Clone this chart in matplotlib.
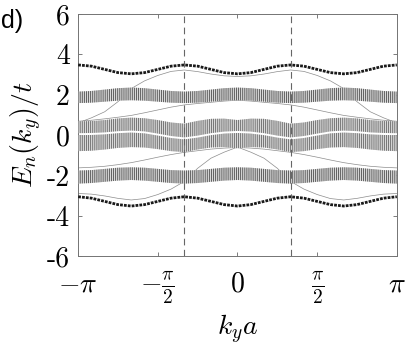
import numpy as np
import matplotlib
matplotlib.use("Agg")
import matplotlib.pyplot as plt

plt.rcParams["mathtext.fontset"] = "cm"
plt.rcParams["hatch.linewidth"] = 0.6
plt.rcParams["axes.unicode_minus"] = False

# 1. Data, k in steps of pi/12 from -pi to pi
k_steps = np.arange(-12, 13)
k = k_steps * np.pi / 12

# thin outer bands (centre line)
band1 = [3.47, 3.41, 3.25, 3.09, 3.03, 3.09, 3.25, 3.41, 3.47, 3.41, 3.25, 3.09, 3.03,
         3.09, 3.25, 3.41, 3.47, 3.41, 3.25, 3.09, 3.03, 3.09, 3.25, 3.41, 3.47]
band6 = [-3.06, -3.13, -3.29, -3.45, -3.52, -3.45, -3.29, -3.13, -3.06, -3.13, -3.29, -3.45, -3.52,
         -3.45, -3.29, -3.13, -3.06, -3.13, -3.29, -3.45, -3.52, -3.45, -3.29, -3.13, -3.06]

# bulk bands: upper / lower edges
band2_top = [2.15, 2.18, 2.25, 2.32, 2.35, 2.32, 2.25, 2.18, 2.15, 2.18, 2.25, 2.32, 2.35,
             2.32, 2.25, 2.18, 2.15, 2.18, 2.25, 2.32, 2.35, 2.32, 2.25, 2.18, 2.15]
band2_bot = [1.58, 1.60, 1.65, 1.70, 1.72, 1.70, 1.65, 1.60, 1.58, 1.60, 1.65, 1.70, 1.72,
             1.70, 1.65, 1.60, 1.58, 1.60, 1.65, 1.70, 1.72, 1.70, 1.65, 1.60, 1.58]
band3_top = [0.68, 0.69, 0.74, 0.82, 0.86, 0.83, 0.74, 0.62, 0.56, 0.70, 0.80, 0.81, 0.74,
             0.81, 0.80, 0.70, 0.56, 0.62, 0.74, 0.83, 0.86, 0.82, 0.74, 0.69, 0.68]
band3_bot = [0.09, 0.10, 0.13, 0.19, 0.22, 0.18, 0.07, -0.05, -0.12, -0.03, 0.09, 0.17, 0.20,
             0.17, 0.09, -0.03, -0.12, -0.05, 0.07, 0.18, 0.22, 0.19, 0.13, 0.10, 0.09]
band4_top = [-0.01, 0.00, 0.03, 0.09, 0.12, 0.08, -0.03, -0.15, -0.22, -0.13, -0.01, 0.07, 0.10,
             0.07, -0.01, -0.13, -0.22, -0.15, -0.03, 0.08, 0.12, 0.09, 0.03, 0.00, -0.01]
band4_bot = [-0.80, -0.78, -0.72, -0.64, -0.60, -0.62, -0.70, -0.80, -0.85, -0.72, -0.62, -0.60, -0.66,
             -0.60, -0.62, -0.72, -0.85, -0.80, -0.70, -0.62, -0.60, -0.64, -0.72, -0.78, -0.80]
band5_top = [-1.76, -1.74, -1.68, -1.62, -1.60, -1.62, -1.68, -1.74, -1.76, -1.74, -1.68, -1.62, -1.60,
             -1.62, -1.68, -1.74, -1.76, -1.74, -1.68, -1.62, -1.60, -1.62, -1.68, -1.74, -1.76]
band5_bot = [-2.41, -2.38, -2.32, -2.26, -2.23, -2.26, -2.32, -2.38, -2.41, -2.38, -2.32, -2.26, -2.23,
             -2.26, -2.32, -2.38, -2.41, -2.38, -2.32, -2.26, -2.23, -2.26, -2.32, -2.38, -2.41]

# edge states (thin lines)
edge_a = [0.60, 0.85, 1.15, 1.65, 2.30, 2.68, 2.95, 3.15, 3.22, 3.14, 3.02, 2.93, 2.90,
          2.93, 3.02, 3.14, 3.22, 3.15, 2.95, 2.68, 2.30, 1.65, 1.15, 0.85, 0.60]
edge_b = [0.68, 0.73, 0.80, 0.88, 0.97, 1.10, 1.24, 1.38, 1.49, 1.56, 1.62, 1.68, 1.72,
          1.68, 1.62, 1.56, 1.49, 1.38, 1.24, 1.10, 0.97, 0.88, 0.80, 0.73, 0.68]
edge_c = [-2.90, -2.93, -3.02, -3.14, -3.22, -3.15, -2.95, -2.68, -2.30, -1.65, -1.15, -0.85, -0.60,
          -0.85, -1.15, -1.65, -2.30, -2.68, -2.95, -3.15, -3.22, -3.14, -3.02, -2.93, -2.90]
edge_d = [-1.63, -1.60, -1.55, -1.47, -1.37, -1.24, -1.10, -0.97, -0.86, -0.78, -0.70, -0.65, -0.62,
          -0.65, -0.70, -0.78, -0.86, -0.97, -1.10, -1.24, -1.37, -1.47, -1.55, -1.60, -1.63]

dash_k = [-np.pi / 3, np.pi / 3]
xticks = [-np.pi, -np.pi / 2, 0, np.pi / 2, np.pi]
xticklabels = [r"$-\pi$", r"$-\frac{\pi}{2}$", r"$0$", r"$\frac{\pi}{2}$", r"$\pi$"]
yticks = [-6, -4, -2, 0, 2, 4, 6]
yticklabels = ["-6", "-4", "-2", "0", "2", "4", "6"]

# 2. Plot
fig = plt.figure(figsize=(4.07, 3.47), dpi=100)
ax = fig.add_axes([0.192, 0.262, 0.783, 0.698])

for e in [edge_a, edge_b, edge_c, edge_d]:
    ax.plot(k, e, color="0.55", lw=0.5, zorder=2)

bulk = [(band2_bot, band2_top, "0.3"), (band3_bot, band3_top, "0.4"),
        (band4_bot, band4_top, "0.4"), (band5_bot, band5_top, "0.3")]
for lo, hi, col in bulk:
    ax.fill_between(k, lo, hi, facecolor="0.85", edgecolor=col, hatch="|" * 8,
                    linewidth=0, zorder=3)

for b in [band1, band6]:
    ax.plot(k, b, color="0.1", lw=2.0, linestyle=(0, (1.0, 0.4)), zorder=4)

for d in dash_k:
    ax.axvline(d, color="0.4", lw=0.8, linestyle=(0, (6, 4)), zorder=5)

ax.set_xlim(-np.pi, np.pi)
ax.set_ylim(-6, 6)
ax.set_xticks(xticks)
ax.set_xticklabels(xticklabels, fontsize=20)
ax.set_yticks(yticks)
ax.set_yticklabels(yticklabels, fontsize=20, fontfamily="cmr10")
ax.tick_params(axis="both", direction="in", top=True, right=True, length=3, width=0.6,
               color="0.4")
ax.tick_params(axis="x", pad=10)
ax.tick_params(axis="y", pad=6)
for spine in ax.spines.values():
    spine.set_color("0.45")
    spine.set_linewidth(0.7)

ax.set_xlabel(r"$k_ya$", fontsize=20, labelpad=4)
ax.set_ylabel(r"$E_n(k_y)/t$", fontsize=20, labelpad=2)

fig.text(0.003, 0.975, "d)", fontsize=18, family="Liberation Sans", va="top", ha="left")

fig.savefig("out.png", dpi=100)
